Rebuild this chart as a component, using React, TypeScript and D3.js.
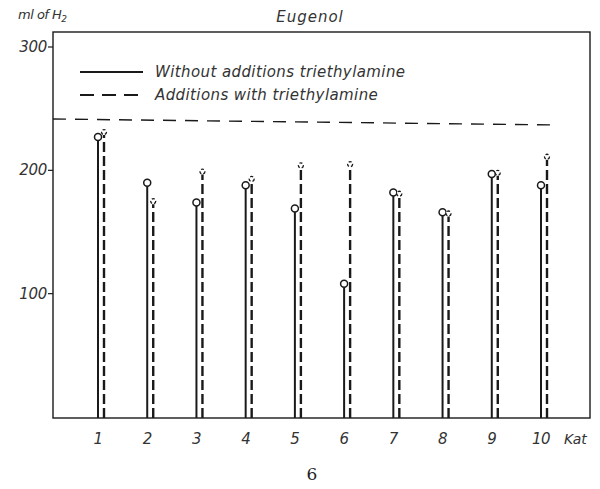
import React from "react";
import * as d3 from "d3";

// Catalyst numbers along the x axis
const catalysts = [1, 2, 3, 4, 5, 6, 7, 8, 9, 10];
// ml of H2 absorbed without triethylamine
const withoutAdditions = [227, 190, 174, 188, 169, 108, 182, 166, 197, 188];
// ml of H2 absorbed with triethylamine added
const withTriethylamine = [231, 175, 199, 193, 204, 205, 181, 165, 198, 211];
// theoretical uptake level drawn as a dashed horizontal line
const theoreticalLevel = [240];
const yTicks = [100, 200, 300];

const W = 600;
const H = 489;
const frame = { left: 53, right: 590, top: 32, bottom: 418 };
const font = "'DejaVu Sans', 'Liberation Sans', sans-serif";

export default function App() {
  const y = d3.scaleLinear().domain([0, 300]).range([417, 47]);
  const x = d3.scaleLinear().domain([1, 10]).range([101, 544]);
  const off = 3;

  return (
    <svg
      width={W}
      height={H}
      style={{ position: "absolute", left: 0, top: 0, background: "#fff" }}
      fontFamily={font}
    >
      <rect x={0} y={0} width={W} height={H} fill="#fff" />
      {/* frame */}
      <rect
        x={frame.left}
        y={frame.top}
        width={frame.right - frame.left}
        height={frame.bottom - frame.top}
        fill="none"
        stroke="#1a1a1a"
        strokeWidth={1.4}
      />
      {/* y ticks */}
      {yTicks.map((t) => (
        <g key={t}>
          <line x1={frame.left - 5} x2={frame.left} y1={y(t)} y2={y(t)} stroke="#1a1a1a" strokeWidth={1.2} />
          <text
            x={frame.left - 6}
            y={y(t) + 5}
            textAnchor="end"
            fontSize={15}
            fontStyle="italic"
            fill="#333"
            letterSpacing={-0.3}
          >
            {t}
          </text>
        </g>
      ))}
      {/* axis titles */}
      <text x={18} y={19} fontSize={13} fontStyle="italic" fill="#333" letterSpacing={-0.5}>
        ml of H
        <tspan fontSize={9} dy={3}>2</tspan>
      </text>
      <text x={310} y={22} fontSize={15} fontStyle="italic" fill="#333" textAnchor="middle" letterSpacing={1}>
        Eugenol
      </text>
      {/* legend */}
      <line x1={80} x2={143} y1={72} y2={72} stroke="#1a1a1a" strokeWidth={2} />
      <text x={155} y={77} fontSize={15} fontStyle="italic" fill="#333" letterSpacing={0.4}>
        Without additions triethylamine
      </text>
      <line x1={80} x2={143} y1={95} y2={95} stroke="#1a1a1a" strokeWidth={2} strokeDasharray="14 8" />
      <text x={155} y={100} fontSize={15} fontStyle="italic" fill="#333" letterSpacing={0.4}>
        Additions with triethylamine
      </text>
      {/* theoretical level */}
      {theoreticalLevel.map((v, i) => (
        <line
          key={i}
          x1={frame.left}
          x2={558}
          y1={y(v) - 2}
          y2={y(v) + 4}
          stroke="#1a1a1a"
          strokeWidth={1.4}
          strokeDasharray="13 9"
        />
      ))}
      {/* stems without additions */}
      {catalysts.map((c, i) => (
        <g key={"s" + c}>
          <line
            x1={x(c) - off}
            x2={x(c) - off}
            y1={frame.bottom}
            y2={y(withoutAdditions[i]) + 3.5}
            stroke="#1a1a1a"
            strokeWidth={2}
          />
          <circle cx={x(c) - off} cy={y(withoutAdditions[i])} r={3.5} fill="#fff" stroke="#1a1a1a" strokeWidth={1.5} />
        </g>
      ))}
      {/* stems with triethylamine */}
      {catalysts.map((c, i) => (
        <g key={"d" + c}>
          <line
            x1={x(c) + off}
            x2={x(c) + off}
            y1={frame.bottom}
            y2={y(withTriethylamine[i]) + 3}
            stroke="#1a1a1a"
            strokeWidth={2.4}
            strokeDasharray="10 4"
          />
          <circle
            cx={x(c) + off}
            cy={y(withTriethylamine[i])}
            r={2.5}
            fill="#fff"
            stroke="#1a1a1a"
            strokeWidth={1.3}
            strokeDasharray="3 2"
          />
        </g>
      ))}
      {/* x labels */}
      {catalysts.map((c) => (
        <text
          key={"l" + c}
          x={x(c) - 3}
          y={444}
          textAnchor="middle"
          fontSize={15}
          fontStyle="italic"
          fill="#333"
          letterSpacing={-0.5}
        >
          {c}
        </text>
      ))}
      <text x={564} y={444} fontSize={14} fontStyle="italic" fill="#333">
        Kat
      </text>
      <text x={312} y={480} fontSize={17} fontFamily="'DejaVu Serif', 'Liberation Serif', serif" fill="#222" textAnchor="middle">
        6
      </text>
    </svg>
  );
}
